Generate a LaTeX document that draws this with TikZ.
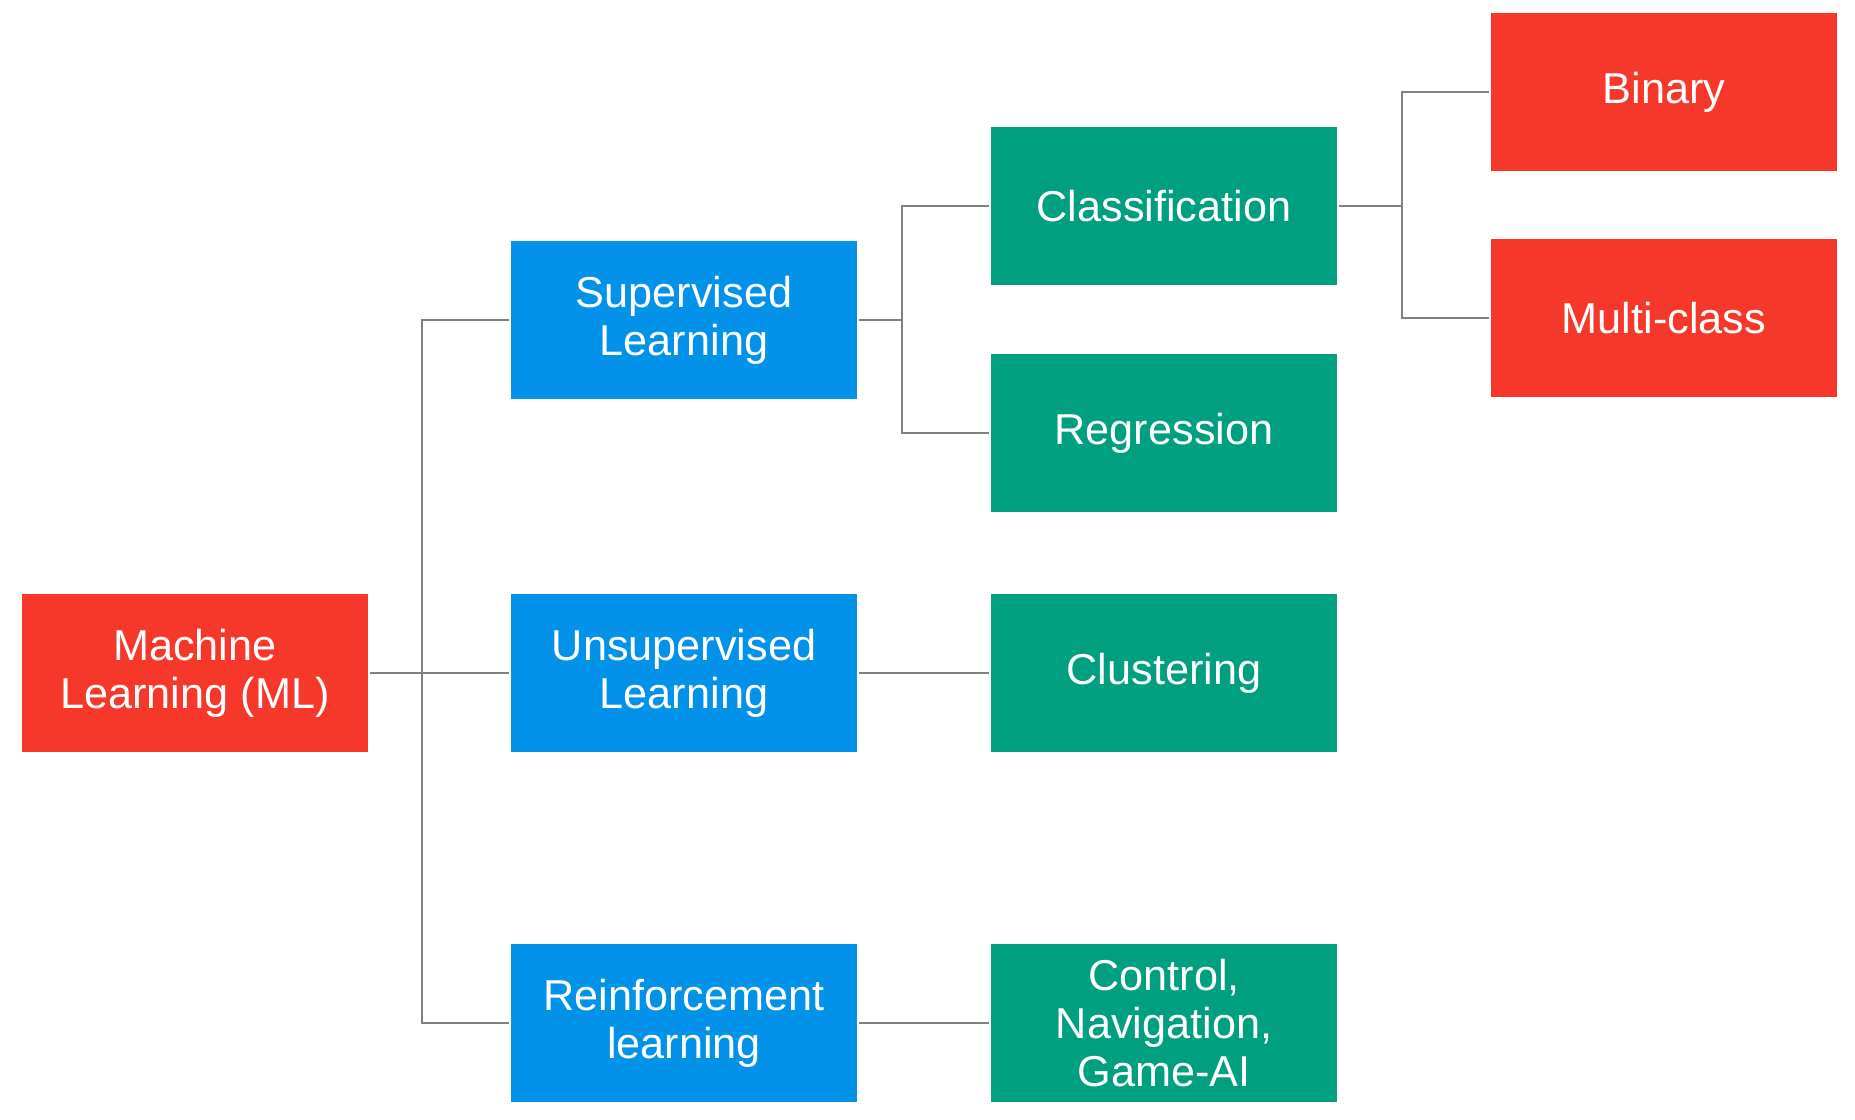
\documentclass[tikz,border=0pt]{standalone}
\usepackage{fontspec}
\setmainfont{Liberation Sans}
\usetikzlibrary{positioning}

\definecolor{mlred}{HTML}{F5382A}
\definecolor{mlblue}{HTML}{0292E9}
\definecolor{mlgreen}{HTML}{009F80}
\definecolor{linkgray}{HTML}{808080}

\tikzset{
  box/.style={minimum width=3.46cm, minimum height=1.58cm, inner sep=0pt,
    outer sep=0pt, text=white, align=center,
    font=\fontsize{12.3}{13.6}\selectfont},
  redbox/.style={box, fill=mlred},
  bluebox/.style={box, fill=mlblue},
  greenbox/.style={box, fill=mlgreen},
  link/.style={draw=linkgray, line width=0.7pt, shorten <=0.7pt},
}

\begin{document}
\begin{tikzpicture}
  \useasboundingbox (0,0) rectangle (18.55,-11.2);

  % root and the three kinds of learning
  \node [redbox] (ml) at (1.95,-6.73) {Machine\\Learning (ML)};
  \node [bluebox, right=1.43cm of ml] (unsup) {Unsupervised\\Learning};
  \node [bluebox, above=1.95cm of unsup] (sup) {Supervised\\Learning};
  \node [bluebox, below=1.92cm of unsup] (rein) {Reinforcement\\learning};

  % tasks
  \node [greenbox, right=1.34cm of sup, yshift=1.14cm] (cls) {Classification};
  \node [greenbox, below=0.69cm of cls] (reg) {Regression};
  \node [greenbox, right=1.34cm of unsup] (clu) {Clustering};
  \node [greenbox, right=1.34cm of rein] (ctrl) {Control,\\Navigation,\\Game-AI};

  % classification types
  \node [redbox, right=1.54cm of cls, yshift=1.14cm] (bin) {Binary};
  \node [redbox, below=0.68cm of bin] (mult) {Multi-class};

  % fork points
  \coordinate (mlfork) at ([xshift=0.54cm]ml.east);
  \coordinate (supfork) at ([xshift=0.45cm]sup.east);
  \coordinate (clsfork) at ([xshift=0.65cm]cls.east);

  % connectors
  \draw [link] (ml) -- (mlfork);
  \draw [link] (sup.west) -| (mlfork);
  \draw [link] (unsup.west) -- (mlfork);
  \draw [link] (rein.west) -| (mlfork);

  \draw [link] (sup) -- (supfork);
  \draw [link] (cls.west) -| (supfork);
  \draw [link] (reg.west) -| (supfork);
  \draw [link, shorten >=0.7pt] (unsup) -- (clu);
  \draw [link, shorten >=0.7pt] (rein) -- (ctrl);

  \draw [link] (cls) -- (clsfork);
  \draw [link] (bin.west) -| (clsfork);
  \draw [link] (mult.west) -| (clsfork);
\end{tikzpicture}
\end{document}
